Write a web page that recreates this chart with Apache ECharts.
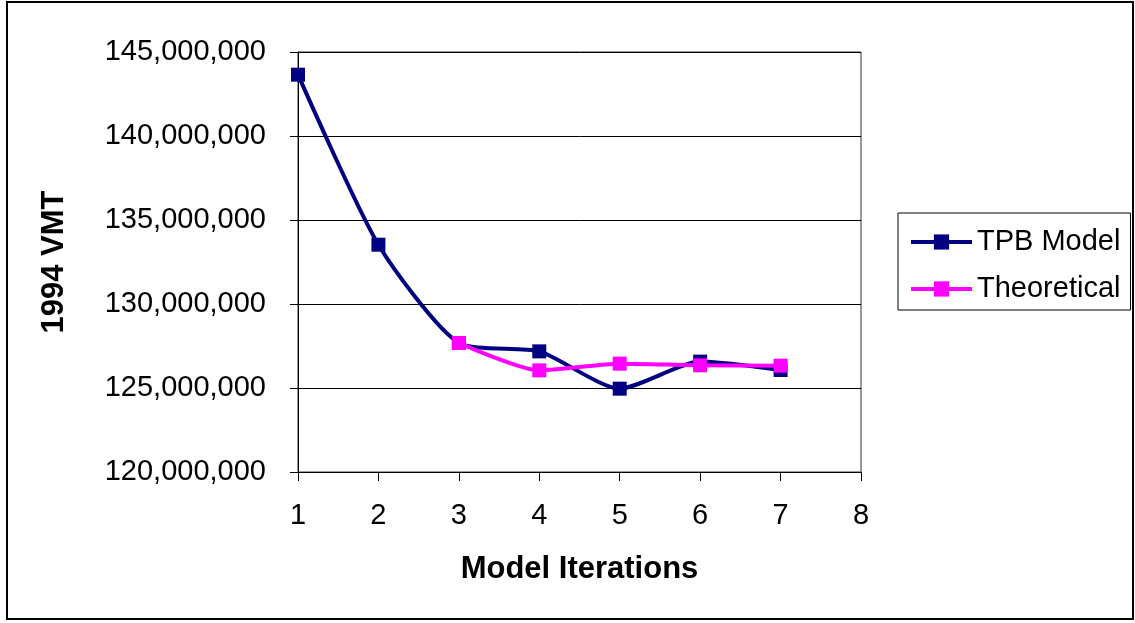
<!DOCTYPE html>
<html>
<head>
<meta charset="utf-8">
<script src="https://cdn.jsdelivr.net/npm/echarts@6/dist/echarts.min.js"></script>
<style>
html,body{margin:0;padding:0;background:#fff;}
#chart{width:1135px;height:623px;}
</style>
</head>
<body>
<div id="chart"></div>
<script>
const iterations = [1, 2, 3, 4, 5, 6, 7];
const tpbModel = [143650000, 133530000, 127680000, 127180000, 124960000, 126570000, 126070000];
const theoreticalIterations = [3, 4, 5, 6, 7];
const theoretical = [127680000, 126050000, 126450000, 126350000, 126330000];
const xTicks = [1, 2, 3, 4, 5, 6, 7, 8];
const yTicks = [120000000, 125000000, 130000000, 135000000, 140000000, 145000000];

const FONT = '"Liberation Sans", Arial, sans-serif';
const chart = echarts.init(document.getElementById('chart'), null, {renderer: 'canvas'});

chart.setOption({
  animation: false,
  backgroundColor: '#ffffff',
  graphic: [{
    type: 'rect',
    shape: {x: 7, y: 2, width: 1126, height: 617},
    style: {fill: 'none', stroke: '#000', lineWidth: 2},
    silent: true,
    z: -10
  }],
  grid: {
    left: 298, right: 274, top: 52, bottom: 151,
    show: true, borderColor: '#333', borderWidth: 1, backgroundColor: 'transparent'
  },
  legend: {
    orient: 'vertical',
    left: 898, top: 213,
    padding: [14, 10, 6, 11],
    itemGap: 17,
    itemWidth: 61,
    itemHeight: 19,
    borderColor: '#000',
    borderWidth: 1,
    textStyle: {fontFamily: FONT, fontSize: 29, color: '#000', lineHeight: 30},
    data: [
      {name: 'TPB Model', lineStyle: {width: 4, color: '#000080'}, itemStyle: {color: '#000080'}},
      {name: 'Theoretical', lineStyle: {width: 4, color: '#FF00FF'}, itemStyle: {color: '#FF00FF'}}
    ]
  },
  xAxis: {
    type: 'value',
    min: xTicks[0], max: xTicks[xTicks.length - 1], interval: 1,
    name: 'Model Iterations',
    nameLocation: 'middle',
    nameGap: 82,
    nameTextStyle: {fontFamily: FONT, fontSize: 31, fontWeight: 'bold', color: '#000'},
    axisLine: {show: true, lineStyle: {color: '#000', width: 1}},
    axisTick: {show: true, length: 9, inside: false, lineStyle: {color: '#000'}},
    axisLabel: {fontFamily: FONT, fontSize: 29, color: '#000', margin: 29},
    splitLine: {show: false}
  },
  yAxis: {
    type: 'value',
    min: yTicks[0], max: yTicks[yTicks.length - 1], interval: 5000000,
    name: '1994 VMT',
    nameLocation: 'middle',
    nameGap: 228,
    nameRotate: 90,
    nameTextStyle: {fontFamily: FONT, fontSize: 31, fontWeight: 'bold', color: '#000'},
    axisLine: {show: true, lineStyle: {color: '#000', width: 1}},
    axisTick: {show: true, length: 8, inside: false, lineStyle: {color: '#000'}},
    axisLabel: {
      fontFamily: FONT, fontSize: 29, color: '#000', margin: 32,
      formatter: v => v.toLocaleString('en-US')
    },
    splitLine: {show: true, lineStyle: {color: '#000', width: 1}}
  },
  series: [
    {
      name: 'TPB Model',
      type: 'line',
      smooth: 0.22,
      data: iterations.map((x, i) => [x, tpbModel[i]]),
      symbol: 'rect',
      symbolSize: 14,
      lineStyle: {color: '#000080', width: 4},
      itemStyle: {color: '#000080'},
      z: 2
    },
    {
      name: 'Theoretical',
      type: 'line',
      smooth: 0.22,
      data: theoreticalIterations.map((x, i) => [x, theoretical[i]]),
      symbol: 'rect',
      symbolSize: 14,
      lineStyle: {color: '#FF00FF', width: 4},
      itemStyle: {color: '#FF00FF'},
      z: 3
    }
  ]
});
</script>
</body>
</html>
